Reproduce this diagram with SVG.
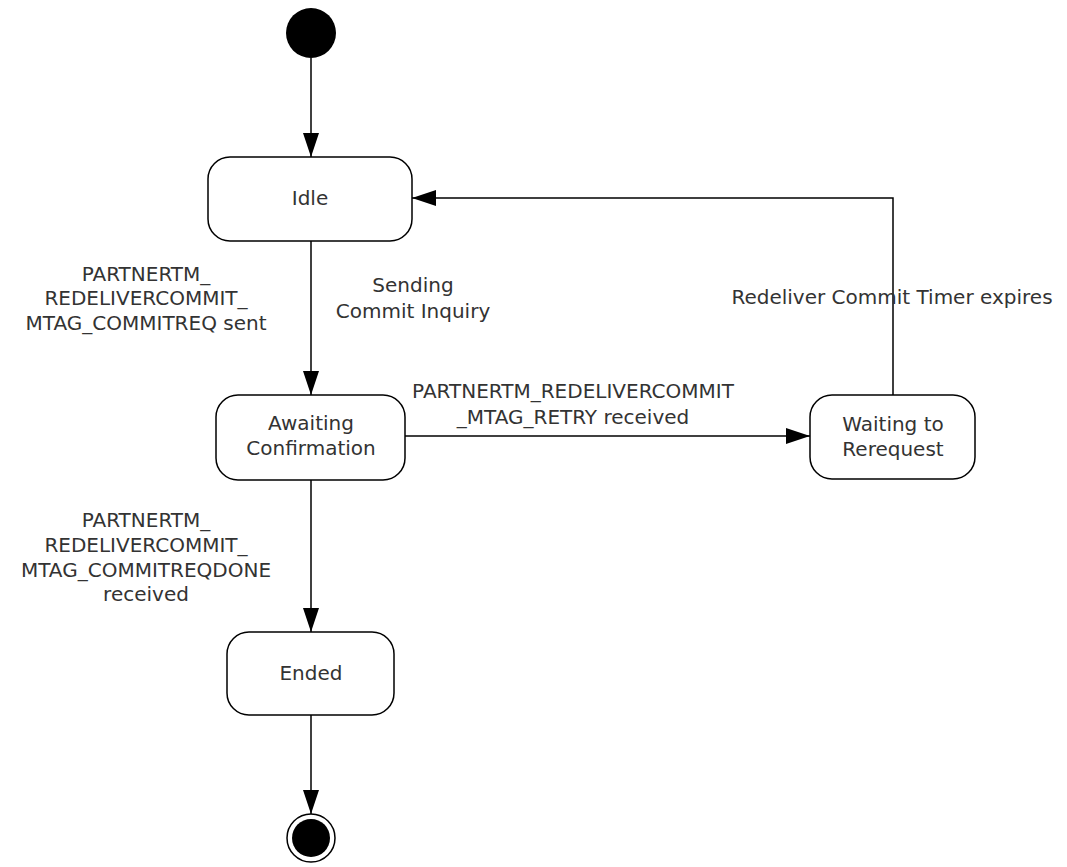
<svg xmlns="http://www.w3.org/2000/svg" width="1067" height="867" viewBox="0 0 1067 867">
<style>
.st{fill:#fff;stroke:#000;stroke-width:1.5}
.t{font-family:"DejaVu Sans",Verdana,sans-serif;font-size:20px;fill:#333;text-anchor:middle}
.c{fill:none;stroke:#000;stroke-width:1.5}
</style>
<defs>
<marker id="ah" markerWidth="24" markerHeight="16" refX="24" refY="8" orient="auto" markerUnits="userSpaceOnUse">
<path d="M0,0 L24,8 L0,16 Z" fill="#000"/>
</marker>
</defs>
<rect width="1067" height="867" fill="#fff"/>
<g id="connectors">
<path class="c" d="M311,58 L311,157" marker-end="url(#ah)"/>
<path class="c" d="M311,241 L311,395" marker-end="url(#ah)"/>
<path class="c" d="M405,436 L810,436" marker-end="url(#ah)"/>
<path class="c" d="M893,395 L893,198 L412,198" marker-end="url(#ah)"/>
<path class="c" d="M311,480 L311,632" marker-end="url(#ah)"/>
<path class="c" d="M311,715 L311,814" marker-end="url(#ah)"/>
<text class="t" x="146" y="281">PARTNERTM_</text>
<text class="t" x="146" y="305">REDELIVERCOMMIT_</text>
<text class="t" x="146" y="330">MTAG_COMMITREQ sent</text>
<text class="t" x="413" y="292">Sending</text>
<text class="t" x="413" y="318">Commit Inquiry</text>
<text class="t" x="573" y="398">PARTNERTM_REDELIVERCOMMIT</text>
<text class="t" x="573" y="424">_MTAG_RETRY received</text>
<text class="t" x="892" y="304">Redeliver Commit Timer expires</text>
<text class="t" x="146" y="527">PARTNERTM_</text>
<text class="t" x="146" y="552">REDELIVERCOMMIT_</text>
<text class="t" x="146" y="577">MTAG_COMMITREQDONE</text>
<text class="t" x="146" y="601">received</text>
</g>
<g id="start"><circle cx="311" cy="33" r="25" fill="#000"/></g>
<g id="idle"><rect class="st" x="208" y="157" width="204" height="84" rx="22"/><text class="t" x="310" y="205">Idle</text></g>
<g id="awaiting"><rect class="st" x="216" y="395" width="189" height="85" rx="22"/><text class="t" x="311" y="430">Awaiting</text><text class="t" x="311" y="455">Confirmation</text></g>
<g id="waiting"><rect class="st" x="810" y="395" width="165" height="84" rx="22"/><text class="t" x="893" y="431">Waiting to</text><text class="t" x="893" y="456">Rerequest</text></g>
<g id="ended"><rect class="st" x="227" y="632" width="167" height="83" rx="22"/><text class="t" x="311" y="680">Ended</text></g>
<g id="end"><circle cx="311" cy="838" r="24" fill="#fff" stroke="#000" stroke-width="1.5"/><circle cx="311" cy="838" r="19" fill="#000"/></g>
</svg>
